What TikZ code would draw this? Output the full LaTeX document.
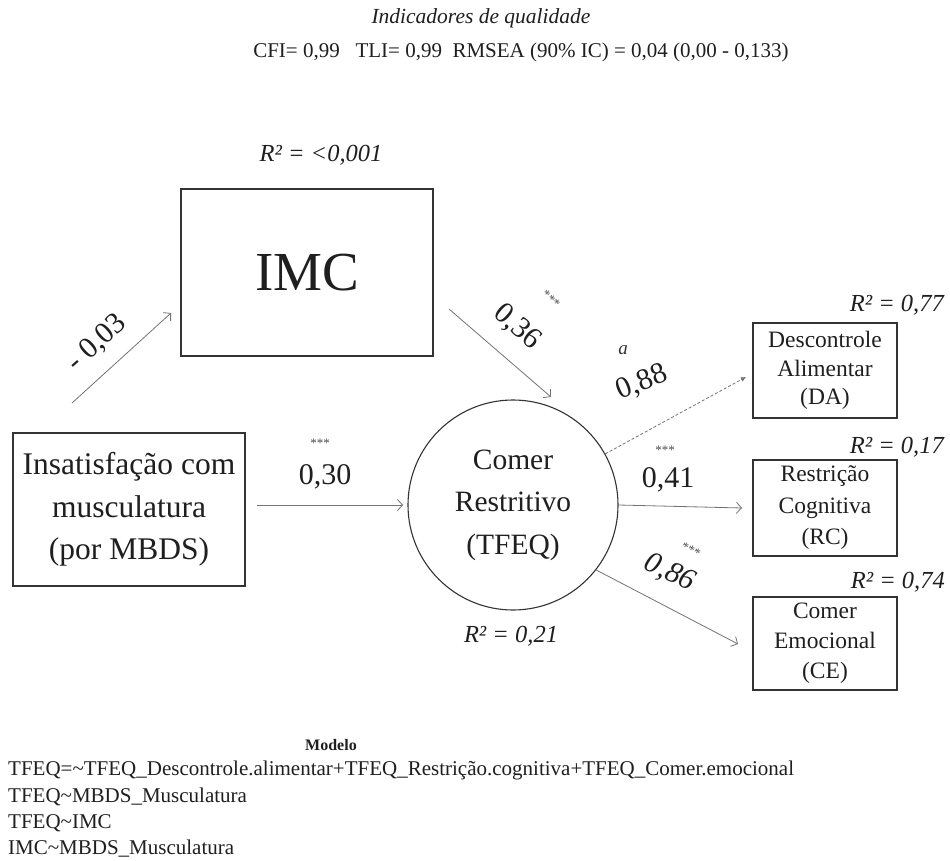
\documentclass[tikz,border=0pt]{standalone}
\usepackage{fontspec}
\setmainfont{Liberation Serif}
\usetikzlibrary{arrows.meta,shapes.geometric}
\newcommand\fsz[2]{\fontsize{#1}{#2}\selectfont}
\tikzset{
  box/.style={draw=black!80, line width=1.1pt, inner sep=0pt, align=center, text=black!88},
  path/.style={draw=black!55, line width=0.8pt, -{Straight Barb[length=5pt,width=11pt,line width=0.8pt]}},
  dpath/.style={draw=black!55, line width=0.8pt, dash pattern=on 3pt off 2pt, -{Latex[length=5pt,width=5pt]}},
  coef/.style={font=\fsz{30}{34}, text=black!88, inner sep=0pt},
  stars/.style={font=\fsz{13}{14}, text=black!70, inner sep=0pt},
  rsq/.style={font=\fsz{24.5}{28}\itshape, text=black!88, inner sep=0pt},
  code/.style={font=\fsz{21}{22}, text=black!88, inner sep=0pt, anchor=west}
}
\begin{document}
\begin{tikzpicture}[x=1pt, y=-1pt]
  \useasboundingbox[fill=white] (0,0) rectangle (950,861);

  % fit indices
  \node[font=\fsz{21.5}{24}\itshape, text=black!88] (qtitle) at (481,18) {Indicadores de qualidade};
  \node[font=\fsz{21}{24}, text=black!88] (qstats) at (521,52)
    {CFI= 0,99\ \ \ TLI= 0,99\ \ RMSEA (90\% IC) = 0,04 (0,00 - 0,133)};

  % variables
  \node[box, minimum width=252pt, minimum height=167pt, font=\fsz{55}{58}] (imc) at (307,272.5) {IMC};
  \node[box, minimum width=232pt, minimum height=153pt, font=\fsz{31.5}{42.5}] (mbds) at (129,509.5)
    {Insatisfação com\\musculatura\\(por MBDS)};
  \node[draw=black!80, line width=1.1pt, circle, minimum size=210pt, inner sep=0pt, align=center,
        font=\fsz{29.5}{42.5}, text=black!88] (tfeq) at (513,505) {Comer\\Restritivo\\(TFEQ)};
  \node[box, minimum width=144pt, minimum height=95pt, font=\fsz{23.5}{28.5}] (da) at (825,370.5)
    {Descontrole\\Alimentar\\(DA)};
  \node[box, minimum width=144pt, minimum height=96pt, font=\fsz{23.5}{31.5}] (rc) at (825,508)
    {Restrição\\Cognitiva\\(RC)};
  \node[box, minimum width=144pt, minimum height=93pt, font=\fsz{23.5}{30}] (ce) at (825,643.5)
    {Comer\\Emocional\\(CE)};

  % explained variance
  \node[rsq] (r2imc) at (321,155) {R² = <0,001};
  \node[rsq] (r2tfeq) at (511,636) {R² = 0,21};
  \node[rsq, anchor=east] (r2da) at (944,305) {R² = 0,77};
  \node[rsq, anchor=east] (r2rc) at (944,447) {R² = 0,17};
  \node[rsq, anchor=east] (r2ce) at (945,582) {R² = 0,74};

  % free ends of the structural paths
  \coordinate (p1s) at (72,403);
  \coordinate (p1e) at (171,313);
  \coordinate (p2s) at (449,309);
  \coordinate (p2e) at (551,397);
  \coordinate (p3s) at (257,505);
  \coordinate (p3e) at (403,505);

  \draw[path] (p1s) -- (p1e);
  \draw[path] (p2s) -- (p2e);
  \draw[path] (p3s) -- (p3e);
  \draw[dpath] (tfeq.29) -- (746,377) coordinate (p4e);
  \draw[path] (tfeq.east) -- (742,508) coordinate (p5e);
  \draw[path] (tfeq.-38) -- (738,644) coordinate (p6e);

  % path coefficients
  \node[coef, rotate=42] (c1) at (97,343) {- 0,03};
  \node[coef, rotate=-41] (c2) at (517,327) {0,36};
  \node[stars, rotate=-41] (s2) at (551,299) {***};
  \node[coef] (c3) at (325,477) {0,30};
  \node[stars] (s3) at (320,443) {***};
  \node[font=\fsz{19}{20}\itshape, text=black!80, inner sep=0pt] (s4) at (623,350) {a};
  \node[coef, rotate=22] (c4) at (642,383) {0,88};
  \node[stars] (s5) at (665,450) {***};
  \node[coef] (c5) at (668,480) {0,41};
  \node[coef, font=\fsz{30}{34}\itshape, rotate=-25] (c6) at (670,573) {0,86};
  \node[stars, rotate=-25] (s6) at (691,550) {***};

  % model syntax
  \node[font=\fsz{16}{18}\bfseries, text=black!88, inner sep=0pt] (mtitle) at (331,745) {Modelo};
  \node[code] (m1) at (8,770) {TFEQ=\textasciitilde TFEQ\_Descontrole.alimentar+TFEQ\_Restrição.cognitiva+TFEQ\_Comer.emocional};
  \node[code] (m2) at (8,797) {TFEQ\textasciitilde MBDS\_Musculatura};
  \node[code] (m3) at (8,823) {TFEQ\textasciitilde IMC};
  \node[code] (m4) at (8,849) {IMC\textasciitilde MBDS\_Musculatura};
\end{tikzpicture}
\end{document}
